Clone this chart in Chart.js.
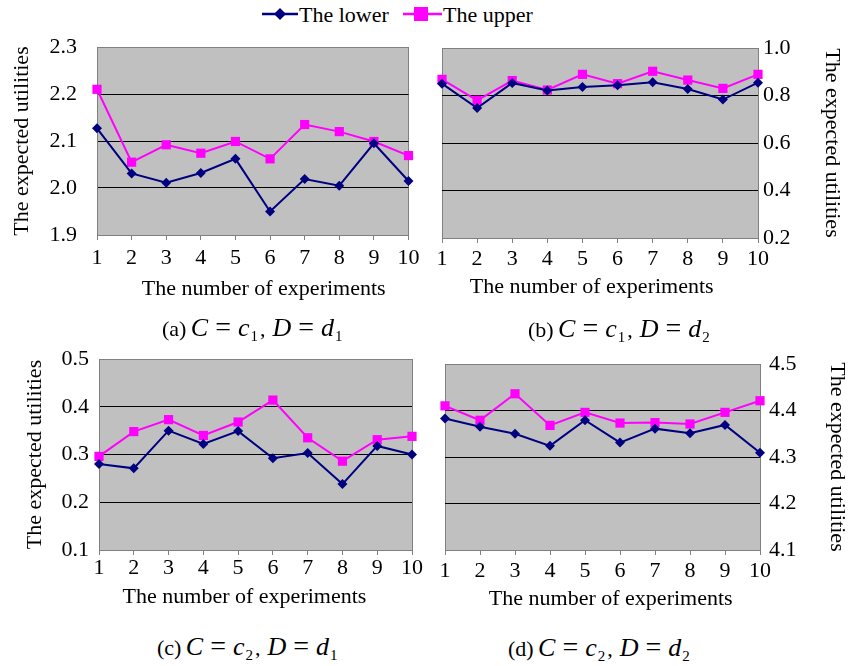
<!DOCTYPE html>
<html><head><meta charset="utf-8">
<script src="https://cdn.jsdelivr.net/npm/chart.js@4/dist/chart.umd.min.js"></script>
<style>
body{margin:0;background:#fff;width:851px;height:666px;position:relative;overflow:hidden;font-family:"Liberation Serif","Times New Roman",serif;color:#000;}
canvas{position:absolute;}
.cap{position:absolute;font-size:22px;white-space:nowrap;line-height:26px;}
.cap i{font-size:26px;}
.cap sub{font-size:15px;vertical-align:-5px;line-height:0;margin-left:1px;}
.cap .eq{font-size:28px;margin:0 7px;}
.cap .cm{margin-right:7px;margin-left:2px;}
.leg{position:absolute;top:2px;font-size:22px;line-height:26px;white-space:nowrap;}
.leg svg{vertical-align:middle;position:relative;top:-3px;}
</style></head>
<body>
<div class="leg" style="left:261px;"><svg width="38" height="16"><line x1="1" y1="8" x2="37" y2="8" stroke="#000080" stroke-width="2.5"/><polygon points="19,2 25,8 19,14 13,8" fill="#000080"/></svg>The lower</div>
<div class="leg" style="left:402px;"><svg width="41" height="16"><line x1="1" y1="8" x2="40" y2="8" stroke="#ff00ff" stroke-width="2.5"/><rect x="12" y="1" width="14" height="14" fill="#ff00ff"/></svg>The upper</div>

<canvas id="ca" width="425" height="310" style="left:0;top:0;"></canvas>
<canvas id="cb" width="426" height="310" style="left:425px;top:0;"></canvas>
<canvas id="cc" width="425" height="290" style="left:0;top:330px;"></canvas>
<canvas id="cd" width="426" height="290" style="left:425px;top:330px;"></canvas>

<div class="cap" style="left:162px;top:314px;">(a)&#8201;<i>C</i><span class="eq">=</span><i>c</i><sub>1</sub><span class="cm">,</span><i>D</i><span class="eq">=</span><i>d</i><sub>1</sub></div>
<div class="cap" style="left:528px;top:315px;">(b)&#8201;<i>C</i><span class="eq">=</span><i>c</i><sub>1</sub><span class="cm">,</span><i>D</i><span class="eq">=</span><i>d</i><sub>2</sub></div>
<div class="cap" style="left:157px;top:633px;">(c)&#8201;<i>C</i><span class="eq">=</span><i>c</i><sub>2</sub><span class="cm">,</span><i>D</i><span class="eq">=</span><i>d</i><sub>1</sub></div>
<div class="cap" style="left:508px;top:634px;">(d)&#8201;<i>C</i><span class="eq">=</span><i>c</i><sub>2</sub><span class="cm">,</span><i>D</i><span class="eq">=</span><i>d</i><sub>2</sub></div>

<script>
// ---- data ----
const experiments = ['1','2','3','4','5','6','7','8','9','10'];
const seriesNames = ['The lower', 'The upper'];
const xTitle = 'The number of experiments';
const yTitle = 'The expected utilities';

const lowerA = [2.127, 2.031, 2.011, 2.032, 2.062, 1.950, 2.019, 2.005, 2.095, 2.015];
const upperA = [2.210, 2.055, 2.092, 2.074, 2.099, 2.062, 2.135, 2.120, 2.099, 2.069];
const ticksA = [1.9, 2.3, 0.1];

const lowerB = [0.850, 0.747, 0.853, 0.821, 0.836, 0.843, 0.856, 0.827, 0.783, 0.854];
const upperB = [0.868, 0.780, 0.863, 0.823, 0.889, 0.850, 0.902, 0.865, 0.830, 0.889];
const ticksB = [0.2, 1.0, 0.2];

const lowerC = [0.280, 0.271, 0.350, 0.322, 0.349, 0.292, 0.303, 0.238, 0.318, 0.300];
const upperC = [0.296, 0.348, 0.373, 0.340, 0.368, 0.414, 0.335, 0.286, 0.331, 0.338];
const ticksC = [0.1, 0.5, 0.1];

const lowerD = [4.383, 4.365, 4.350, 4.324, 4.379, 4.331, 4.361, 4.351, 4.369, 4.309];
const upperD = [4.410, 4.379, 4.436, 4.368, 4.396, 4.373, 4.374, 4.371, 4.396, 4.421];
const ticksD = [4.1, 4.5, 0.1];

// ---- styling / layout ----
const FONT = {family: '"Liberation Serif","Times New Roman",serif', size: 22};
const LOWER_COLOR = '#000080';
const UPPER_COLOR = '#ff00ff';
const EDGE = '#808080';

const plotBg = {
  id: 'plotBg',
  beforeDraw(chart) {
    const a = chart.chartArea, ctx = chart.ctx;
    ctx.save(); ctx.fillStyle = '#c0c0c0';
    ctx.fillRect(a.left, a.top, a.right - a.left, a.bottom - a.top);
    ctx.restore();
  }
};

function makePanel(id, lower, upper, ticks, g) {
  const [yMin, yMax, step] = ticks;
  const nTicks = Math.round((yMax - yMin) / step);
  new Chart(document.getElementById(id), {
    type: 'line',
    data: {
      labels: experiments,
      datasets: [
        {label: seriesNames[0], data: lower, borderColor: LOWER_COLOR, backgroundColor: LOWER_COLOR,
         borderWidth: 2, pointStyle: 'rectRot', pointRadius: 5, pointBorderWidth: 0, tension: 0, clip: false},
        {label: seriesNames[1], data: upper, borderColor: UPPER_COLOR, backgroundColor: UPPER_COLOR,
         borderWidth: 2, pointStyle: 'rect', pointRadius: 6.5, pointBorderWidth: 0, tension: 0, clip: false}
      ]
    },
    options: {
      responsive: false, animation: false, devicePixelRatio: 1,
      layout: {padding: g.pad},
      plugins: {legend: {display: false}, tooltip: {enabled: false}},
      scales: {
        x: {
          type: 'category', offset: false,
          grid: {
            color: c => (c.index === 0 || c.index === experiments.length - 1) ? EDGE : 'rgba(0,0,0,0)',
            tickColor: EDGE, tickLength: 5, lineWidth: 1
          },
          border: {color: EDGE, width: 1},
          ticks: {font: FONT, color: '#000', padding: g.xTickPad, maxRotation: 0, autoSkip: false},
          title: {display: true, text: ' '.repeat(g.lead) + xTitle + ' '.repeat(g.trail), font: FONT, color: '#000',
                  padding: {top: 0, bottom: g.xTitlePad}},
          afterFit: s => { s.height = g.xH; }
        },
        y: {
          position: g.side, min: yMin, max: yMax,
          grid: {
            color: c => (c.index === 0 || c.index === nTicks) ? EDGE : '#000',
            drawTicks: false, lineWidth: 1
          },
          border: {color: EDGE, width: 1},
          ticks: {font: FONT, color: '#000', padding: g.yTickPad, stepSize: step,
                  callback: v => Number(v).toFixed(1)},
          title: {display: true, text: yTitle, font: FONT, color: '#000', padding: {top: g.yTitlePad, bottom: g.yTitlePad}},
          afterFit: s => { s.width = g.yW; }
        }
      }
    },
    plugins: [plotBg]
  });
}

makePanel('ca', lowerA, upperA, ticksA, {side: 'left', pad: {left: 0, top: 47, right: 16, bottom: 0},
  yW: 97, xH: 75, yTickPad: 20, xTickPad: 5.5, yTitlePad: 9, xTitlePad: 8, lead: 4, trail: 0});
makePanel('cb', lowerB, upperB, ticksB, {side: 'right', pad: {left: 17, top: 48, right: 0, bottom: 0},
  yW: 93, xH: 72, yTickPad: 5, xTickPad: 3, yTitlePad: 6, xTitlePad: 10, lead: 0, trail: 3});
makePanel('cc', lowerC, upperC, ticksC, {side: 'left', pad: {left: 0, top: 29, right: 13, bottom: 0},
  yW: 99, xH: 70, yTickPad: 10, xTickPad: 0.5, yTitlePad: 22, xTitlePad: 10, lead: 0, trail: 4});
makePanel('cd', lowerD, upperD, ticksD, {side: 'right', pad: {left: 20, top: 34, right: 0, bottom: 0},
  yW: 91, xH: 70, yTickPad: 9, xTickPad: 3, yTitlePad: 1, xTitlePad: 8, lead: 3, trail: 0});
</script>
</body></html>
